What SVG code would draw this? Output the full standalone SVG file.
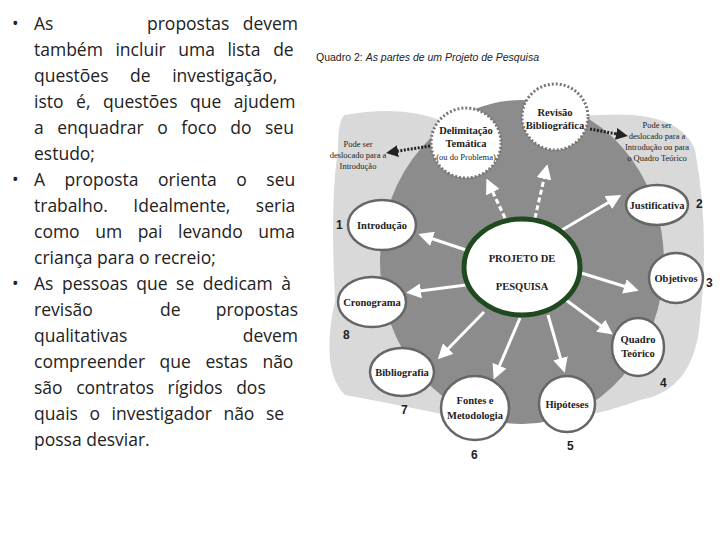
<svg xmlns="http://www.w3.org/2000/svg" width="720" height="540" viewBox="0 0 720 540">
<style>
.b{font-family:"Open Sans","Liberation Sans",Arial,sans-serif;font-size:17.5px;fill:#222}
.e{text-anchor:end}
.n{font-family:"Liberation Serif","Times New Roman",serif;font-size:10.5px;font-weight:bold;fill:#222;text-anchor:middle}
.s{font-family:"Liberation Serif","Times New Roman",serif;font-size:8.5px;fill:#222;text-anchor:middle}
.num{font-family:"Liberation Sans",Arial,sans-serif;font-size:12px;font-weight:bold;fill:#222}
.nd{fill:#fff;stroke:#666;stroke-width:2.5}
.dn{fill:#fff;stroke:#777;stroke-width:3;stroke-dasharray:2 2}
.ar{stroke:#fff;stroke-width:3;fill:none;marker-end:url(#wh)}
.da{stroke:#fff;stroke-width:3;stroke-dasharray:5 3;fill:none;marker-end:url(#wh)}
.dt{stroke:#222;stroke-width:3;stroke-dasharray:2 1.5;fill:none;marker-end:url(#bk)}
</style>
<defs>
<marker id="wh" markerWidth="5" markerHeight="5" refX="3" refY="2.5" orient="auto"><path d="M0,0L5,2.5L0,5z" fill="#fff"/></marker>
<marker id="bk" markerWidth="4" markerHeight="4" refX="2" refY="2" orient="auto"><path d="M0,0L4,2L0,4z" fill="#222"/></marker>
</defs>
<rect width="720" height="540" fill="#fff"/>
<g id="text">
<text class="b" x="12" y="30">•</text>
<text class="b" x="34" y="30">As</text><text class="b" x="147" y="30">propostas</text><text class="b e" x="298" y="30">devem</text>
<text class="b" x="34" y="56" word-spacing="8">também incluir uma lista de</text>
<text class="b" x="34" y="82" word-spacing="17">questões de investigação,</text>
<text class="b" x="34" y="108" word-spacing="8">isto é, questões que ajudem</text>
<text class="b" x="34" y="134" word-spacing="9">a enquadrar o foco do seu</text>
<text class="b" x="34" y="160">estudo;</text>
<text class="b" x="12" y="186">•</text>
<text class="b" x="34" y="186" word-spacing="15">A proposta orienta o seu</text>
<text class="b" x="34" y="212" word-spacing="21">trabalho. Idealmente, seria</text>
<text class="b" x="34" y="238" word-spacing="11">como um pai levando uma</text>
<text class="b" x="34" y="264">criança para o recreio;</text>
<text class="b" x="12" y="290">•</text>
<text class="b" x="34" y="290" word-spacing="4">As pessoas que se dedicam à</text>
<text class="b" x="34" y="316">revisão</text><text class="b" x="160" y="316">de</text><text class="b e" x="298" y="316">propostas</text>
<text class="b" x="34" y="342">qualitativas</text><text class="b e" x="298" y="342">devem</text>
<text class="b" x="34" y="368" word-spacing="10">compreender que estas não</text>
<text class="b" x="34" y="394" word-spacing="9">são contratos rígidos dos</text>
<text class="b" x="34" y="420" word-spacing="7">quais o investigador não se</text>
<text class="b" x="34" y="446">possa desviar.</text>
</g>
<text x="316" y="61" font-family="'Liberation Sans',Arial,sans-serif" font-size="10.5" fill="#222">Quadro 2: <tspan font-style="italic">As partes de um Projeto de Pesquisa</tspan></text>
<g id="background">
<path d="M345,115 Q400,105 440,120 L600,115 Q680,110 695,150 Q710,230 700,320 Q695,390 640,400 Q560,430 470,420 Q400,405 345,395 Q320,370 335,300 Q330,200 338,150 Q338,118 345,115z" fill="#d9d9d9"/>
<ellipse cx="522" cy="262" rx="142" ry="162" fill="#8c8c8c"/>
</g>
<g id="connectors">
<line class="ar" x1="466" y1="250" x2="424" y2="236"/>
<line class="ar" x1="466" y1="285" x2="412" y2="292"/>
<line class="ar" x1="484" y1="312" x2="442" y2="355"/>
<line class="ar" x1="520" y1="318" x2="496" y2="374"/>
<line class="ar" x1="548" y1="315" x2="563" y2="367"/>
<line class="ar" x1="566" y1="300" x2="608" y2="331"/>
<line class="ar" x1="578" y1="272" x2="633" y2="289"/>
<line class="ar" x1="562" y1="230" x2="616" y2="198"/>
<line class="da" x1="505" y1="218" x2="489" y2="184"/>
<line class="da" x1="535" y1="218" x2="546" y2="170"/>
<line class="dt" x1="430" y1="146" x2="392" y2="152"/>
<line class="dt" x1="590" y1="129" x2="622" y2="135"/>
</g>
<g id="center"><ellipse cx="522" cy="267" rx="58" ry="48" fill="#fff" stroke="#1f4a1f" stroke-width="5"/>
<text class="n" x="522" y="262" font-size="13" font-weight="normal">PROJETO DE</text>
<text class="n" x="522" y="290" font-size="13" font-weight="normal">PESQUISA</text></g>
<g id="delimitacao"><circle class="dn" cx="466" cy="143" r="35"/>
<text class="n" x="466" y="134">Delimitação</text><text class="n" x="466" y="147">Temática</text><text class="s" x="466" y="160">(ou do Problema)</text></g>
<g id="revisao"><circle class="dn" cx="555" cy="117" r="33"/>
<text class="n" x="555" y="116">Revisão</text><text class="n" x="555" y="129">Bibliográfica</text></g>
<g id="introducao"><ellipse class="nd" cx="382" cy="225" rx="34" ry="25"/><text class="n" x="382" y="229">Introdução</text><text class="num" x="336" y="229">1</text></g>
<g id="justificativa"><ellipse class="nd" cx="657" cy="205" rx="31" ry="20"/><text class="n" x="657" y="209">Justificativa</text><text class="num" x="696" y="208">2</text></g>
<g id="objetivos"><ellipse class="nd" cx="676" cy="278" rx="27" ry="25"/><text class="n" x="676" y="282">Objetivos</text><text class="num" x="706" y="287">3</text></g>
<g id="quadro"><ellipse class="nd" cx="638" cy="347" rx="26" ry="29"/><text class="n" x="638" y="343">Quadro</text><text class="n" x="638" y="357">Teórico</text><text class="num" x="660" y="387">4</text></g>
<g id="hipoteses"><ellipse class="nd" cx="567" cy="404" rx="28" ry="28"/><text class="n" x="567" y="408">Hipóteses</text><text class="num" x="567" y="450">5</text></g>
<g id="fontes"><ellipse class="nd" cx="475" cy="408" rx="34" ry="32"/><text class="n" x="475" y="404">Fontes e</text><text class="n" x="475" y="419">Metodologia</text><text class="num" x="471" y="459">6</text></g>
<g id="bibliografia"><ellipse class="nd" cx="402" cy="372" rx="32" ry="24"/><text class="n" x="402" y="376">Bibliografia</text><text class="num" x="401" y="414">7</text></g>
<g id="cronograma"><ellipse class="nd" cx="372" cy="302" rx="34" ry="25"/><text class="n" x="372" y="306">Cronograma</text><text class="num" x="343" y="339">8</text></g>
<g id="notes">
<text class="s" x="358" y="147">Pode ser</text><text class="s" x="358" y="158">deslocado para a</text><text class="s" x="358" y="169">Introdução</text>
<text class="s" x="657" y="128">Pode ser</text><text class="s" x="657" y="139">deslocado para a</text><text class="s" x="657" y="150">Introdução ou para</text><text class="s" x="657" y="161">o Quadro Teórico</text>
</g>
</svg>
